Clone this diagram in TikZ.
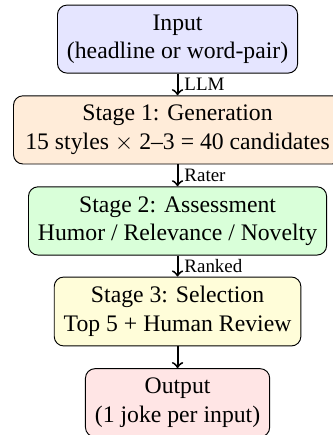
\documentclass[tikz,border=0pt]{standalone}
\usepackage{fontspec}
\setmainfont{Liberation Serif}
\usepackage{tikz}

\tikzset{
    stage/.style={draw, rectangle, rounded corners=4pt, align=center, inner sep=4pt},
    lbl/.style={right, midway, font=\footnotesize, inner sep=2.5pt}
}

\begin{document}
\begin{tikzpicture}[scale=1]
        \useasboundingbox (-74.9pt,16.5pt) rectangle (65.2pt,-167pt);
        % Define the nodes
        \node[stage, fill=blue!10]   (in)  at (0,0)         {Input\\(headline or word-pair)};
        \node[stage, fill=orange!15, inner xsep=5pt] (gen) at (0,-38.3pt) {Stage 1: Generation\\15 styles $\times$ 2--3 = 40 candidates};
        \node[stage, fill=green!15]  (ass) at (0,-76.7pt)   {Stage 2: Assessment\\Humor / Relevance / Novelty};
        \node[stage, fill=yellow!15] (sel) at (0,-114.9pt)  {Stage 3: Selection\\Top 5 + Human Review};
        \node[stage, fill=red!10]    (out) at (0,-153.4pt)  {Output\\(1 joke per input)};
        % Connect the nodes
        \draw[->, thick] (in)  -- (gen) node[lbl] {LLM};
        \draw[->, thick] (gen) -- (ass) node[lbl] {Rater};
        \draw[->, thick] (ass) -- (sel) node[lbl] {Ranked};
        \draw[->, thick] (sel) -- (out);
    \end{tikzpicture}
\end{document}
